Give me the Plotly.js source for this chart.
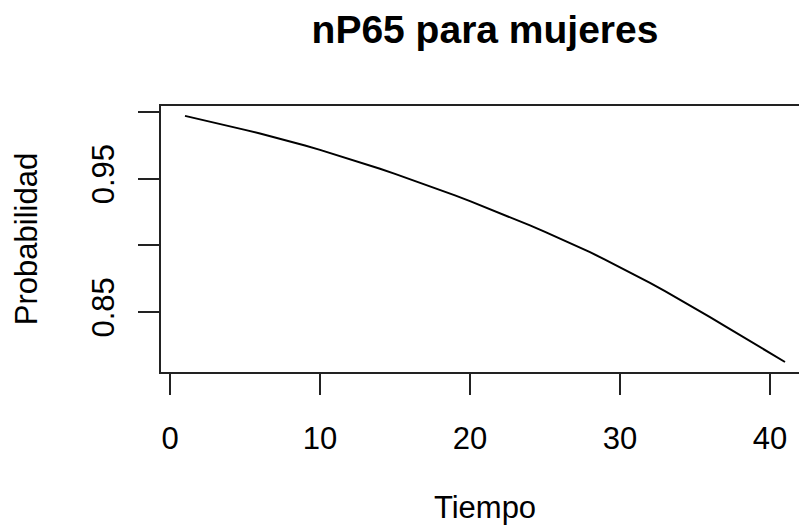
<!DOCTYPE html>
<html>
<head>
<meta charset="utf-8">
<script src="https://cdn.plot.ly/plotly-3.0.1.min.js"></script>
<style>
html,body{margin:0;padding:0;background:#fff;overflow:hidden;width:799px;height:529px;}
#chart{width:830px;height:529px;}
</style>
</head>
<body>
<div id="chart"></div>
<script>
const tiempo = [1,2,3,4,5,6,7,8,9,10,11,12,13,14,15,16,17,18,19,20,21,22,23,24,25,26,27,28,29,30,31,32,33,34,35,36,37,38,39,40,41];
const probabilidad = [0.9972,0.9947,0.9921,0.9894,0.9867,0.9839,0.9810,0.9780,0.9749,0.9717,
  0.9683,0.9648,0.9612,0.9575,0.9537,0.9498,0.9458,0.9417,0.9375,0.9332,
  0.9288,0.9243,0.9197,0.9150,0.9102,0.9053,0.9002,0.8949,0.8894,0.8837,
  0.8778,0.8718,0.8656,0.8593,0.8528,0.8462,0.8395,0.8328,0.8261,0.8193,0.8125];
const yTickVals = [0.85, 0.90, 0.95, 1.00];
const yTickText = ["0.85", "", "0.95", ""];
const xTickVals = [0, 10, 20, 30, 40];
const xTickText = ["0", "10", "20", "30", "40"];
const tituloPrincipal = "nP65 para mujeres";
const tituloX = "Tiempo";
const tituloY = "Probabilidad";

const font = "Liberation Sans, Arial, Helvetica, sans-serif";

const trace = {
  x: tiempo, y: probabilidad, type: "scatter", mode: "lines",
  line: {color: "#000", width: 2}, hoverinfo: "skip", showlegend: false
};

const layout = {
  width: 830, height: 529,
  margin: {l: 161, r: 21, t: 106, b: 157, pad: 0},
  paper_bgcolor: "#fff", plot_bgcolor: "#fff",
  font: {family: font, color: "#000"},
  title: {text: "<b>" + tituloPrincipal + "</b>", font: {family: font, size: 39, color: "#000"},
          x: 0.5, xref: "paper", xanchor: "center", y: 1 - 29/529, yref: "container", yanchor: "middle"},
  xaxis: {
    range: [-0.6, 42.6], tickvals: xTickVals, ticktext: xTickText,
    showgrid: false, zeroline: false, showline: true, mirror: true,
    linecolor: "#222", linewidth: 2,
    ticks: "outside", ticklen: 21, tickwidth: 2, tickcolor: "#222",
    ticklabelstandoff: 17,
    tickfont: {family: font, size: 31, color: "#000"},
    title: {text: tituloX, font: {family: font, size: 31, color: "#000"}, standoff: 41}
  },
  yaxis: {
    range: [0.805, 1.0046], tickvals: yTickVals, ticktext: yTickText,
    showgrid: false, zeroline: false, showline: true, mirror: true,
    linecolor: "#222", linewidth: 2,
    ticks: "outside", ticklen: 21, tickwidth: 2, tickcolor: "#222",
    tickangle: -90, ticklabelstandoff: 12,
    tickfont: {family: font, size: 31, color: "#000"},
    title: {text: tituloY, font: {family: font, size: 31, color: "#000"}, standoff: 39}
  }
};

Plotly.newPlot("chart", [trace], layout, {staticPlot: true, displayModeBar: false});
</script>
</body>
</html>
